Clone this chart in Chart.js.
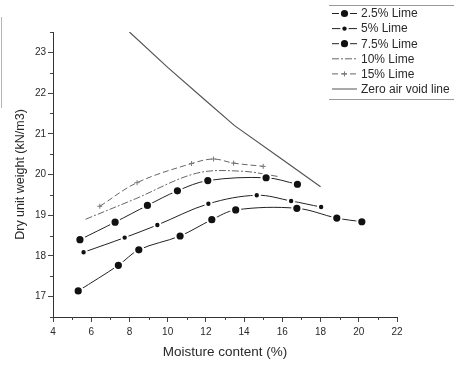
<!DOCTYPE html>
<html><head><meta charset="utf-8">
<script src="https://cdn.jsdelivr.net/npm/chart.js@4/dist/chart.umd.min.js"></script>
<style>html,body{margin:0;padding:0;background:#fff;}#wrap{width:454px;height:365px;position:relative;}</style>
</head><body><div id="wrap"><canvas id="c"></canvas></div>
<script>
// ---- data ----
const seriesNames = ['2.5% Lime','5% Lime','7.5% Lime','10% Lime','15% Lime','Zero air void line'];
const moisture25 = [5.32, 7.42, 8.49, 10.65, 12.31, 13.56, 16.76, 18.85, 20.16];
const weight25   = [17.14, 17.77, 18.15, 18.49, 18.89, 19.13, 19.17, 18.93, 18.84];
const moisture5  = [5.6, 7.75, 9.46, 12.13, 14.66, 16.46, 18.03];
const weight5    = [18.09, 18.45, 18.76, 19.28, 19.49, 19.35, 19.2];
const moisture75 = [5.41, 7.25, 8.94, 10.51, 12.1, 15.15, 16.79];
const weight75   = [18.4, 18.83, 19.24, 19.6, 19.85, 19.92, 19.76];
const moisture10 = [5.7, 8.3, 11.5, 13.9, 15.8];
const weight10   = [18.9, 19.4, 20.03, 20.08, 19.95];
const moisture15 = [6.45, 8.4, 11.25, 12.4, 13.45, 15.0];
const weight15   = [19.22, 19.8, 20.27, 20.38, 20.28, 20.2];
const moistureZAV = [8, 10, 12, 13.5, 16, 18];
const weightZAV   = [23.5, 22.63, 21.81, 21.2, 20.37, 19.7];
const xTickLabels = [4, 6, 8, 10, 12, 14, 16, 18, 20, 22];
const yTickLabels = [17, 18, 19, 20, 21, 22, 23];

const pts = (xs, ys) => xs.map((x, i) => ({x, y: ys[i]}));
const FONT = "'Liberation Sans', Arial, sans-serif";
const TXT = '#2a2a2a';

function mkDs(label, data, o) {
  return Object.assign({label, data, showLine: true, borderWidth: 1, tension: 0.35,
    borderColor: '#222', pointBackgroundColor: '#111', pointBorderColor: '#fff',
    pointBorderWidth: 2, pointRadius: 0, pointHoverRadius: 0, pointStyle: 'circle', borderDash: []}, o);
}

const datasets = [
  mkDs(seriesNames[0], pts(moisture25, weight25), {pointRadius: 4.6}),
  mkDs(seriesNames[1], pts(moisture5, weight5), {pointRadius: 3.2}),
  mkDs(seriesNames[2], pts(moisture75, weight75), {pointRadius: 4.6}),
  mkDs(seriesNames[3], pts(moisture10, weight10), {borderColor: '#666', borderDash: [7, 2, 2, 2], pointRadius: 0}),
  mkDs(seriesNames[4], pts(moisture15, weight15), {borderColor: '#666', borderDash: [6, 3], pointRadius: 2.5, pointStyle: 'cross', pointBorderColor: '#777', pointBorderWidth: 1}),
  mkDs(seriesNames[5], pts(moistureZAV, weightZAV), {borderColor: '#555', borderWidth: 1.2, tension: 0, pointRadius: 0})
];

const minorTicks = {
  id: 'minorTicks',
  afterDraw(chart) {
    const ctx = chart.ctx, xs = chart.scales.x, ys = chart.scales.y;
    ctx.save(); ctx.strokeStyle = '#444'; ctx.lineWidth = 1;
    for (let i = 0; i < xTickLabels.length - 1; i++) {
      const v = (xTickLabels[i] + xTickLabels[i + 1]) / 2;
      const px = Math.round(xs.getPixelForValue(v)) + 0.5;
      ctx.beginPath(); ctx.moveTo(px, ys.bottom); ctx.lineTo(px, ys.bottom + 3); ctx.stroke();
    }
    const yMin = [16.5].concat(yTickLabels.map(v => v + 0.5));
    for (const v of yMin) {
      const py = Math.round(ys.getPixelForValue(v)) + 0.5;
      ctx.beginPath(); ctx.moveTo(xs.left, py); ctx.lineTo(xs.left - 3, py); ctx.stroke();
    }
    // faint frame edge at far left of the reference image
    ctx.strokeStyle = '#b5b5b5';
    ctx.beginPath(); ctx.moveTo(1.5, 17); ctx.lineTo(1.5, 108); ctx.stroke();
    ctx.restore();
  }
};

const boxLegend = {
  id: 'boxLegend',
  afterDraw(chart) {
    const ctx = chart.ctx; ctx.save();
    ctx.strokeStyle = '#9a9a9a'; ctx.lineWidth = 1;
    ctx.beginPath(); ctx.moveTo(329, 5.5); ctx.lineTo(454, 5.5); ctx.moveTo(329, 99.5); ctx.lineTo(454, 99.5); ctx.stroke();
    ctx.font = '12px ' + FONT; ctx.textBaseline = 'middle'; ctx.textAlign = 'left';
    chart.data.datasets.forEach((ds, i) => {
      const y = 13.5 + i * 15.1;
      ctx.strokeStyle = ds.borderColor; ctx.lineWidth = 1; ctx.setLineDash(ds.borderDash || []);
      ctx.beginPath(); ctx.moveTo(332, y); ctx.lineTo(357, y); ctx.stroke(); ctx.setLineDash([]);
      if (ds.pointRadius > 0) {
        ctx.fillStyle = ds.pointBackgroundColor; ctx.strokeStyle = ds.pointBorderColor; ctx.lineWidth = ds.pointBorderWidth;
        Chart.helpers.drawPoint(ctx, {pointStyle: ds.pointStyle, radius: ds.pointRadius, borderWidth: ds.pointBorderWidth, rotation: 0}, 344.5, y);
      }
      ctx.fillStyle = TXT; ctx.fillText(ds.label, 361, y + 0.5);
    });
    ctx.restore();
  }
};

new Chart(document.getElementById('c'), {
  type: 'scatter',
  data: {datasets},
  plugins: [minorTicks, boxLegend],
  options: {
    responsive: true, maintainAspectRatio: false, animation: false,
    layout: {padding: {left: 0, right: 57, top: 32, bottom: 0}},
    plugins: {legend: {display: false}, tooltip: {enabled: false}},
    scales: {
      x: {type: 'linear', min: 4, max: 22,
        afterBuildTicks: s => { s.ticks = xTickLabels.map(v => ({value: v})); },
        afterFit: s => { s.height = 48; },
        grid: {display: true, drawOnChartArea: false, drawTicks: true, tickLength: 5, color: '#444'},
        border: {display: true, color: '#333', width: 1},
        ticks: {color: TXT, font: {family: FONT, size: 10}, padding: 4, maxRotation: 0},
        title: {display: true, text: 'Moisture content (%)', color: TXT, font: {family: FONT, size: 13.5}, padding: {top: 0, bottom: 5}}
      },
      y: {type: 'linear', min: 16.5, max: 23.5,
        afterBuildTicks: s => { s.ticks = yTickLabels.map(v => ({value: v})); },
        afterFit: s => { s.width = 53; },
        grid: {display: true, drawOnChartArea: false, drawTicks: true, tickLength: 5, color: '#444'},
        border: {display: true, color: '#333', width: 1},
        ticks: {color: TXT, font: {family: FONT, size: 10}, padding: 2},
        title: {display: true, text: 'Dry unit weight (kN/m3)', color: TXT, font: {family: FONT, size: 12.5}, padding: {top: 13, bottom: 0}}
      }
    }
  }
});
</script></body></html>
